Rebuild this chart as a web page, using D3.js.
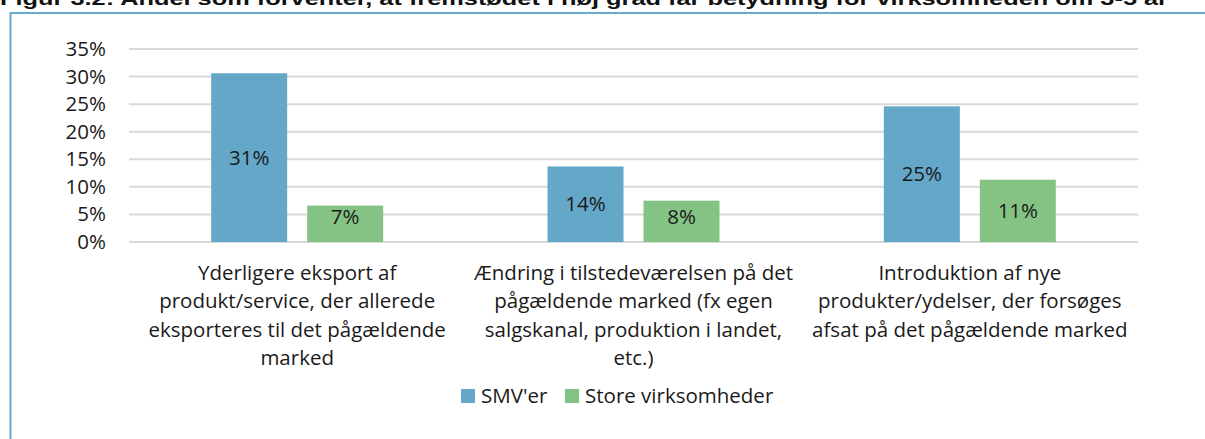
<!DOCTYPE html>
<html>
<head>
<meta charset="utf-8">
<script src="https://cdn.jsdelivr.net/npm/d3@7"></script>
<style>
  body { margin: 0; background: #fff; overflow: hidden; }
  svg { display: block; }
</style>
</head>
<body>
<div id="chart"></div>
<script>
const title = "Figur 3.2: Andel som forventer, at fremstødet i høj grad får betydning for virksomheden om 3-5 år"
const categories = [
    ["Yderligere eksport af", "produkt/service, der allerede", "eksporteres til det pågældende", "marked"],
    ["Ændring i tilstedeværelsen på det", "pågældende marked (fx egen", "salgskanal, produktion i landet,", "etc.)"],
    ["Introduktion af nye", "produkter/ydelser, der forsøges", "afsat på det pågældende marked"]
]
const seriesNames = ["SMV'er", "Store virksomheder"]
const smv = [30.6, 13.7, 24.6]
const store = [6.6, 7.5, 11.3]
const yTicks = [0, 5, 10, 15, 20, 25, 30, 35]
const colors = ["#65a7c8", "#85c385"]

const width = 1205, height = 439
const font = "'Open Sans', sans-serif"
const fontSize = 20.5
const textColor = "#1a1a1a"

const svg = d3.select('#chart')
    .append('svg')
    .attr('width', width)
    .attr('height', height)

// frame
svg.append("rect")
    .attr("x", 10.5)
    .attr("y", 13)
    .attr("width", 1220)
    .attr("height", 460)
    .attr("fill", "none")
    .attr("stroke", "#6aaacb")
    .attr("stroke-width", 2)

svg.append("text")
    .attr("x", 0)
    .attr("y", 4.5)
    .attr("font-family", "'Liberation Sans', sans-serif")
    .attr("font-weight", "bold")
    .attr("font-size", 19)
    .attr("fill", "#111")
    .attr("textLength", 1168)
    .attr("lengthAdjust", "spacingAndGlyphs")
    .text(title)

const x = d3.scaleBand().domain(d3.range(categories.length)).range([129, 1138])
const y = d3.scaleLinear().domain([0, 35]).range([242, 49])

// gridlines
svg.append("g")
    .selectAll("line")
    .data(yTicks)
    .join("line")
    .attr("x1", 129)
    .attr("x2", 1138)
    .attr("y1", d => y(d))
    .attr("y2", d => y(d))
    .attr("stroke", "#d9d9d9")
    .attr("stroke-width", 2)

const yAxis = svg.append("g")
    .attr("transform", "translate(106,0)")
    .call(d3.axisLeft(y).tickValues(yTicks).tickFormat(d => d + "%").tickSize(0).tickPadding(0))
yAxis.select(".domain").remove()
yAxis.selectAll("text")
    .attr("font-family", font)
    .attr("font-size", fontSize)
    .attr("fill", textColor)

const barW = 76, gap = 20
const series = [smv, store]
const bars = svg.append("g")
series.forEach((vals, s) => {
    const g = bars.append("g")
    g.selectAll("rect")
        .data(vals)
        .join("rect")
        .attr("x", (d, i) => x(i) + x.bandwidth() / 2 - barW - gap / 2 + s * (barW + gap))
        .attr("y", d => y(d))
        .attr("width", barW)
        .attr("height", d => y(0) - y(d))
        .attr("fill", colors[s])
    g.selectAll("text")
        .data(vals)
        .join("text")
        .attr("x", (d, i) => x(i) + x.bandwidth() / 2 - barW / 2 - gap / 2 + s * (barW + gap))
        .attr("y", d => Math.min((y(d) + y(0)) / 2, y(0) - 25))
        .attr("dy", "0.35em")
        .attr("text-anchor", "middle")
        .attr("font-family", font)
        .attr("font-size", fontSize)
        .attr("fill", textColor)
        .text(d => Math.round(d) + "%")
})

// category labels
const cat = svg.append("g")
    .selectAll("text")
    .data(categories)
    .join("text")
    .attr("text-anchor", "middle")
    .attr("font-family", font)
    .attr("font-size", fontSize)
    .attr("fill", textColor)
    .attr("transform", (d, i) => `translate(${x(i) + x.bandwidth() / 2},280)`)
cat.selectAll("tspan")
    .data(d => d)
    .join("tspan")
    .attr("x", 0)
    .attr("y", (d, i) => i * 28.3)
    .text(d => d)

// legend
const legendX = [461, 565]
const legend = svg.append("g")
    .selectAll("g")
    .data(seriesNames)
    .join("g")
    .attr("transform", (d, i) => `translate(${legendX[i]},389)`)
legend.append("rect")
    .attr("width", 14)
    .attr("height", 14)
    .attr("fill", (d, i) => colors[i])
legend.append("text")
    .attr("x", 20)
    .attr("y", 7)
    .attr("dy", "0.35em")
    .attr("font-family", font)
    .attr("font-size", fontSize)
    .attr("fill", textColor)
    .text(d => d)
</script>
</body>
</html>
